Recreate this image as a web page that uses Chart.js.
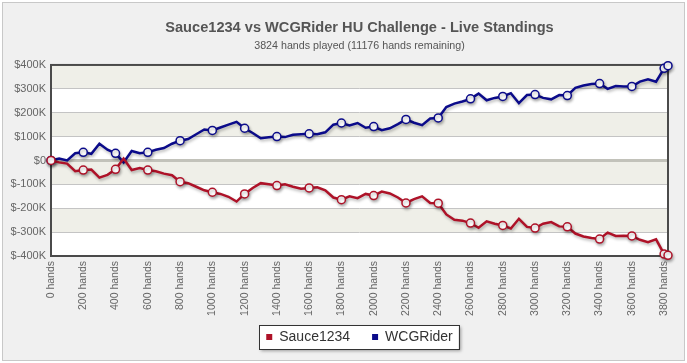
<!DOCTYPE html>
<html>
<head>
<meta charset="utf-8">
<script src="https://cdn.jsdelivr.net/npm/chart.js@4.4.0/dist/chart.umd.min.js"></script>
<style>
  html, body { margin: 0; padding: 0; background: #fff; }
  #wrap { position: relative; width: 687px; height: 363px; }
</style>
</head>
<body>
<div id="wrap"><canvas id="standingsChart" width="687" height="363"></canvas></div>
<script>
// hands played at each reading
const hands = [0, 50, 100, 150, 200, 250, 300, 350, 400, 450, 500, 550, 600, 650, 700, 750,
  800, 850, 900, 950, 1000, 1050, 1100, 1150, 1200, 1250, 1300, 1350, 1400, 1450, 1500, 1550,
  1600, 1650, 1700, 1750, 1800, 1850, 1900, 1950, 2000, 2050, 2100, 2150, 2200, 2250, 2300, 2350,
  2400, 2450, 2500, 2550, 2600, 2650, 2700, 2750, 2800, 2850, 2900, 2950, 3000, 3050, 3100, 3150,
  3200, 3250, 3300, 3350, 3400, 3450, 3500, 3550, 3600, 3650, 3700, 3750, 3800, 3824];

// winnings in $K
const sauce = [0, -8, -13, -45, -40, -38, -72, -60, -37, 8, -40, -32, -40, -45, -55, -62,
  -89, -95, -110, -125, -133, -140, -152, -172, -140, -115, -95, -100, -105, -100, -110, -118,
  -115, -112, -125, -155, -164, -150, -158, -140, -147, -130, -138, -155, -178, -162, -150, -178,
  -179, -226, -248, -252, -262, -282, -255, -265, -272, -285, -244, -278, -283, -265, -258, -276,
  -278, -306, -318, -325, -329, -302, -316, -315, -316, -332, -342, -330, -392, -397];

const wcg = [0, 8, 0, 30, 34, 28, 70, 45, 30, -8, 40, 30, 34, 45, 52, 70,
  83, 90, 110, 130, 126, 138, 150, 162, 135, 115, 93, 97, 100, 98, 108, 110,
  112, 110, 118, 150, 157, 147, 157, 137, 142, 127, 135, 152, 172, 158, 148, 176,
  178, 224, 238, 247, 258, 280, 252, 262, 268, 282, 240, 274, 276, 262, 256, 274,
  272, 304, 314, 320, 322, 300, 312, 310, 310, 330, 340, 330, 386, 397];

const xTicks = [0, 200, 400, 600, 800, 1000, 1200, 1400, 1600, 1800, 2000, 2200, 2400,
  2600, 2800, 3000, 3200, 3400, 3600, 3800];
const yTicks = [-400, -300, -200, -100, 0, 100, 200, 300, 400];

const RED = "#ae1228";
const BLUE = "#0b0b8a";

Chart.defaults.font.family = "'Liberation Sans', Arial, sans-serif";

const backdrop = {
  id: "backdrop",
  beforeDraw(chart) {
    const { ctx, chartArea: a, scales: { y } } = chart;
    ctx.save();
    ctx.fillStyle = "#f0f0f0";
    ctx.fillRect(2, 2, 683, 359);
    ctx.strokeStyle = "#c8c8c8";
    ctx.lineWidth = 1;
    ctx.strokeRect(2.5, 2.5, 682, 358);

    ctx.fillStyle = "#fff";
    ctx.fillRect(a.left, a.top, a.width, a.height);
    ctx.fillStyle = "#efefe8";
    [[300, 400], [100, 200], [-100, 0], [-300, -200]].forEach(([lo, hi]) => {
      const t = y.getPixelForValue(hi);
      const b = y.getPixelForValue(lo);
      ctx.fillRect(a.left, t, a.width, b - t);
    });

    // box round the legend
    const boxes = chart.legend.legendHitBoxes;
    if (boxes && boxes.length) {
      const first = boxes[0];
      const last = boxes[boxes.length - 1];
      const x0 = first.left - 7;
      const x1 = last.left + last.width + 6;
      const yc = first.top + first.height / 2;
      ctx.shadowColor = "rgba(0,0,0,0.35)";
      ctx.shadowBlur = 3;
      ctx.shadowOffsetX = 2;
      ctx.shadowOffsetY = 2;
      ctx.fillStyle = "#fff";
      ctx.fillRect(x0, yc - 12, x1 - x0, 24);
      ctx.shadowColor = "transparent";
      ctx.strokeStyle = "#333";
      ctx.strokeRect(Math.round(x0) + 0.5, Math.round(yc - 12) + 0.5, Math.round(x1 - x0), 24);
    }
    ctx.restore();
  },
};

const frame = {
  id: "frame",
  beforeDatasetsDraw(chart) {
    const { ctx, chartArea: a } = chart;
    ctx.save();
    ctx.strokeStyle = "#4a4a4a";
    ctx.lineWidth = 2;
    ctx.strokeRect(a.left, a.top, a.width, a.height);
    ctx.restore();
  },
};

const lineShadow = {
  id: "lineShadow",
  beforeDatasetDraw(chart) {
    const ctx = chart.ctx;
    ctx.save();
    ctx.shadowColor = "rgba(0,0,0,0.28)";
    ctx.shadowBlur = 3;
    ctx.shadowOffsetX = 1;
    ctx.shadowOffsetY = 2;
  },
  afterDatasetDraw(chart) {
    chart.ctx.restore();
  },
};

const markerRadius = (c) =>
  hands[c.dataIndex] % 200 === 0 || c.dataIndex === hands.length - 1 ? 4 : 0;

const series = (label, values, color) => ({
  label,
  data: hands.map((h, i) => ({ x: h, y: values[i] })),
  borderColor: color,
  backgroundColor: color,
  borderWidth: 2.5,
  tension: 0,
  fill: false,
  clip: false,
  pointRadius: markerRadius,
  pointHoverRadius: markerRadius,
  pointBorderWidth: 1.5,
  pointBackgroundColor: "#fff",
  pointBorderColor: color,
});

const ctx = document.getElementById("standingsChart").getContext("2d");

new Chart(ctx, {
  type: "line",
  data: {
    datasets: [
      series("Sauce1234", sauce, RED),
      series("WCGRider", wcg, BLUE),
    ],
  },
  options: {
    responsive: false,
    animation: false,
    layout: { padding: { top: 19, left: 3, right: 19, bottom: 9 } },
    plugins: {
      title: {
        display: true,
        fullSize: false,
        text: "Sauce1234 vs WCGRider HU Challenge - Live Standings",
        color: "#555",
        font: { size: 14.6, weight: "bold" },
        padding: { top: 0, bottom: 3 },
      },
      subtitle: {
        display: true,
        fullSize: false,
        text: "3824 hands played (11176 hands remaining)",
        color: "#555",
        font: { size: 10.7 },
        padding: { top: 0, bottom: 12.6 },
      },
      legend: {
        position: "bottom",
        fullSize: false,
        labels: {
          boxWidth: 6,
          boxHeight: 6,
          padding: 22,
          color: "#333",
          font: { size: 14 },
          generateLabels: (chart) =>
            Chart.defaults.plugins.legend.labels.generateLabels(chart).map((l) => ({
              ...l,
              lineWidth: 0,
              fillStyle: l.strokeStyle,
            })),
        },
      },
      tooltip: { enabled: false },
    },
    scales: {
      x: {
        type: "linear",
        min: 0,
        max: 3824,
        afterBuildTicks: (s) => { s.ticks = xTicks.map((v) => ({ value: v })); },
        afterFit: (s) => {
          s.height = 52;
          // let the long rotated labels run below the axis box
          s._computeLabelArea = () => null;
        },
        grid: { display: false, drawTicks: false },
        border: { display: false },
        ticks: {
          minRotation: 90,
          maxRotation: 90,
          padding: 5,
          color: "#666",
          font: { size: 10.5 },
          callback: (v) => v + " hands",
        },
      },
      y: {
        min: -400,
        max: 400,
        afterBuildTicks: (s) => { s.ticks = yTicks.map((v) => ({ value: v })); },
        afterFit: (s) => { s.width = 48; },
        grid: {
          drawTicks: false,
          color: (c) => (c.tick && c.tick.value === 0 ? "#c2c2ba" : "#c4c4c4"),
          lineWidth: (c) => (c.tick && c.tick.value === 0 ? 3 : 1),
        },
        border: { display: false },
        ticks: {
          padding: 5,
          color: "#666",
          font: { size: 11 },
          callback: (v) => (v === 0 ? "$0" : "$" + v + "K"),
        },
      },
    },
  },
  plugins: [backdrop, frame, lineShadow],
});
</script>
</body>
</html>
